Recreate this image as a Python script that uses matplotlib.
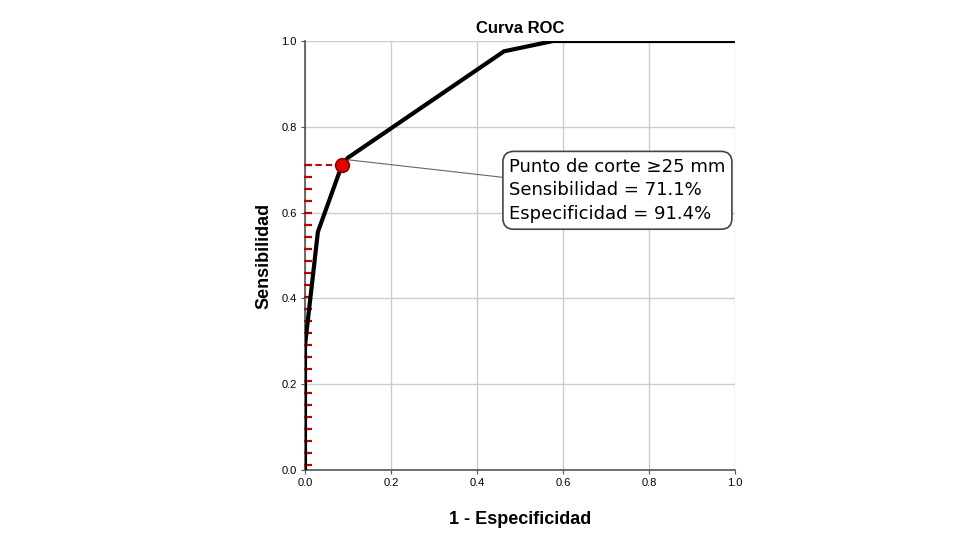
import numpy as np
from matplotlib import pyplot as plt

# ROC curve points
fpr = [0.0, 0.0, 0.030, 0.086, 0.10, 0.463, 0.577, 1.0]
tpr = [0.0, 0.29, 0.555, 0.711, 0.728, 0.976, 1.0, 1.0]

cut_x = 0.086
cut_y = 0.711
cut_text = 'Punto de corte \u226525 mm\nSensibilidad = 71.1%\nEspecificidad = 91.4%'

ticks = [0.0, 0.2, 0.4, 0.6, 0.8, 1.0]
tick_labels = ['0.0', '0.2', '0.4', '0.6', '0.8', '1.0']

fig = plt.figure(figsize=(9.75, 5.41), dpi=100)
ax = fig.add_axes([0.3128, 0.1312, 0.441, 0.7930])

ax.set_xlim(0, 1)
ax.set_ylim(0, 1)
ax.set_xticks(ticks)
ax.set_yticks(ticks)
ax.set_xticklabels(tick_labels, family='Liberation Sans', fontsize=8)
ax.set_yticklabels(tick_labels, family='Liberation Sans', fontsize=8)
ax.tick_params(length=3, color='#555555', pad=3)
ax.grid(True, color='#cccccc', linewidth=1)
ax.set_axisbelow(True)

for s in ['top', 'right']:
    ax.spines[s].set_visible(False)
for s in ['left', 'bottom']:
    ax.spines[s].set_color('#555555')
    ax.spines[s].set_linewidth(1.2)

# red marks along the y axis and dashed line to the cut point
marks = np.arange(cut_y, 0, -0.028)
ax.plot(np.zeros(len(marks)) + 0.006, marks, linestyle='none', marker='_',
        markersize=6, markeredgewidth=1.6, color='#c00000', zorder=3, clip_on=False)
ax.plot([0, cut_x], [cut_y, cut_y], color='#c00000', linestyle=(0, (3, 2)),
        linewidth=1.5, zorder=3)

ax.plot(fpr, tpr, color='black', linewidth=3, zorder=4, solid_joinstyle='miter')

ax.plot([cut_x], [cut_y], marker='o', markersize=10, markerfacecolor='#e00000',
        markeredgecolor='#7a0000', markeredgewidth=1, zorder=5)

ax.annotate(cut_text, xy=(cut_x + 0.015, cut_y + 0.012), xytext=(0.475, 0.652),
            textcoords='data', fontsize=13, family='DejaVu Sans', linespacing=1.4,
            va='center', ha='left',
            bbox=dict(boxstyle='round,pad=0.35,rounding_size=0.6', facecolor='white',
                      edgecolor='#444444', linewidth=1.2),
            arrowprops=dict(arrowstyle='-', color='#666666', linewidth=0.8,
                            shrinkA=0, shrinkB=0),
            zorder=6)

ax.set_title('Curva ROC', fontsize=12, fontweight='bold', family='Liberation Sans', pad=6)
ax.set_xlabel('1 - Especificidad', fontsize=13, fontweight='bold',
              family='Liberation Sans', labelpad=16)
ax.set_ylabel('Sensibilidad', fontsize=13, fontweight='bold',
              family='Liberation Sans', labelpad=6)

fig.savefig('out.png', dpi=100)
